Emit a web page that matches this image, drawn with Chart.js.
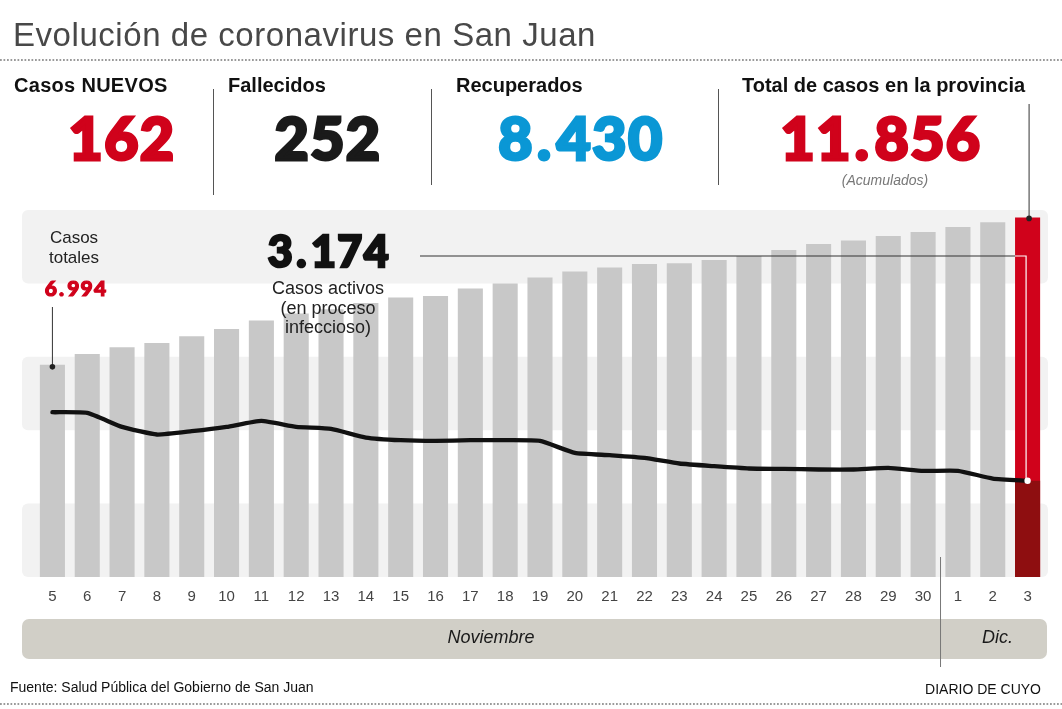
<!DOCTYPE html>
<html><head><meta charset="utf-8">
<script src="https://cdn.jsdelivr.net/npm/chart.js@4/dist/chart.umd.min.js"></script>
<style>
html,body{margin:0;padding:0;background:#fff;}
#wrap{position:relative;width:1062px;height:709px;overflow:hidden;font-family:"Liberation Sans",Arial,sans-serif;}
#c{position:absolute;left:0;top:0;}
.t{position:absolute;white-space:nowrap;line-height:1;}
.big{font-family:"Lato","Roboto",sans-serif;font-weight:900;-webkit-text-stroke:3px currentColor;letter-spacing:1.5px;}
.big .p{margin:0 4px 0 3px;}
.dots{position:absolute;left:0;width:1062px;height:2px;background-image:linear-gradient(to right,#9a9a9a 45%,rgba(255,255,255,0) 45%);background-size:3.5px 1.5px;background-repeat:repeat-x;}
.sep{position:absolute;width:1px;background:#555;}
</style></head>
<body><div id="wrap">
<canvas id="c" width="1062" height="709"></canvas>
<div class="t" style="left:13px;top:18px;font-size:33px;letter-spacing:0.55px;color:#484848;">Evolución de coronavirus en San Juan</div>
<div class="dots" style="top:59px;"></div>
<div class="t" style="left:14px;top:75px;font-size:20px;font-weight:bold;color:#111;letter-spacing:0.3px;">Casos NUEVOS</div>
<div class="t" style="left:228px;top:75px;font-size:20px;font-weight:bold;color:#111;">Fallecidos</div>
<div class="t" style="left:456px;top:75px;font-size:20px;font-weight:bold;color:#111;">Recuperados</div>
<div class="t" style="left:742px;top:75px;font-size:20px;font-weight:bold;color:#111;">Total de casos en la provincia</div>
<div class="sep" style="left:213px;top:89px;height:106px;"></div>
<div class="sep" style="left:431px;top:89px;height:96px;"></div>
<div class="sep" style="left:718px;top:89px;height:96px;"></div>
<div class="t big" style="left:22px;width:200px;text-align:center;top:108px;font-size:59px;color:#d0021b;">162</div>
<div class="t big" style="left:228px;width:200px;text-align:center;top:108px;font-size:59px;color:#1a1a1a;">252</div>
<div class="t big" style="left:431px;width:300px;text-align:center;top:108px;font-size:59px;color:#0a97d5;">8<span class="p">.</span>430</div>
<div class="t big" style="left:731px;width:300px;text-align:center;top:108px;font-size:59px;color:#d0021b;">11<span class="p">.</span>856</div>
<div class="t" style="left:785px;width:200px;text-align:center;top:173px;font-size:14px;font-style:italic;color:#777;">(Acumulados)</div>

<div class="t" style="left:24px;width:100px;text-align:center;top:228px;font-size:17px;line-height:20px;color:#222;">Casos<br>totales</div>
<div class="t big" style="left:26px;width:100px;text-align:center;top:277px;font-size:21px;color:#d0021b;-webkit-text-stroke:1.2px currentColor;letter-spacing:1.2px;">6<span class="p" style="margin:0 2px 0 1px;">.</span>994</div>
<div class="t big" style="left:229px;width:200px;text-align:center;top:229px;font-size:43px;color:#111;-webkit-text-stroke:2.5px currentColor;letter-spacing:1.5px;">3<span class="p" style="margin:0 3px 0 2px;">.</span>174</div>
<div class="t" style="left:228px;width:200px;text-align:center;top:279px;font-size:18px;line-height:19.5px;color:#222;">Casos activos<br>(en proceso<br>infeccioso)</div>

<div class="t" style="left:391px;width:200px;text-align:center;top:628px;font-size:18px;font-style:italic;color:#1a1a1a;">Noviembre</div>
<div class="t" style="left:913px;width:100px;text-align:right;top:628px;font-size:18px;font-style:italic;color:#1a1a1a;">Dic.</div>
<div class="t" style="left:10px;top:680px;font-size:14px;color:#111;">Fuente: Salud Pública del Gobierno de San Juan</div>
<div class="t" style="left:841px;width:200px;text-align:right;top:682px;font-size:14px;color:#111;">DIARIO DE CUYO</div>
<div class="dots" style="top:703px;"></div>
</div>
<script>
// Days (5 Nov - 3 Dec)
const dayLabels = ['5','6','7','8','9','10','11','12','13','14','15','16','17','18','19','20','21','22','23','24','25','26','27','28','29','30','1','2','3'];
// Casos totales (acumulados)
const totalCases = [6994,7356,7576,7718,7939,8180,8457,8688,8829,9037,9215,9268,9512,9676,9874,10072,10204,10323,10346,10455,10587,10784,10982,11094,11246,11378,11543,11698,11856];
// Casos activos
const activeCases = [5433,5410,4949,4698,4807,4949,5147,4949,4883,4599,4510,4487,4510,4510,4487,4092,4016,3927,3742,3653,3577,3564,3544,3544,3597,3498,3498,3247,3174];
// Axis range and background band step
const yMax = 12100;
const bandStep = 2420;

const lastIdx = dayLabels.length - 1;
const barColors = totalCases.map((v,i)=> i===lastIdx ? '#d0021b' : '#c8c8c8');
const activeLastOnly = activeCases.map((v,i)=> i===lastIdx ? v : null);
const pointR = activeCases.map((v,i)=> i===lastIdx ? 3.2 : 0);

const decor = {
  id:'decor',
  beforeDraw(chart){
    const ctx = chart.ctx;
    ctx.save();
    ctx.fillStyle = '#d1cfc7';
    ctx.beginPath();
    ctx.roundRect(22, 619, 1025, 40, 7);
    ctx.fill();
    ctx.restore();
  },
  beforeDatasetsDraw(chart){
    const ctx = chart.ctx, y = chart.scales.y;
    ctx.save();
    ctx.fillStyle = '#f2f2f2';
    for(let v=0; v<yMax; v+=bandStep*2){
      const top = y.getPixelForValue(Math.min(v+bandStep,yMax));
      const bot = y.getPixelForValue(v);
      ctx.beginPath();
      ctx.roundRect(22, top, 1026, bot-top, 6);
      ctx.fill();
    }
    ctx.restore();
  },
  afterDatasetsDraw(chart){
    const ctx = chart.ctx, x = chart.scales.x;
    const bars = chart.getDatasetMeta(2).data;
    const pts = chart.getDatasetMeta(0).data;
    const lastBar = bars[lastIdx], firstBar = bars[0], lastPt = pts[lastIdx];
    ctx.save();
    // 3.174 connector
    const barLeft = lastBar.x - lastBar.width/2;
    ctx.lineWidth = 1.2;
    ctx.strokeStyle = '#333';
    ctx.beginPath(); ctx.moveTo(420, 256); ctx.lineTo(barLeft, 256); ctx.stroke();
    ctx.strokeStyle = '#fff';
    ctx.beginPath(); ctx.moveTo(barLeft, 256); ctx.lineTo(lastPt.x - 1.5, 256); ctx.lineTo(lastPt.x - 1.5, lastPt.y); ctx.stroke();
    // 6.994 connector
    ctx.strokeStyle = '#333'; ctx.lineWidth = 1;
    ctx.beginPath(); ctx.moveTo(firstBar.x, 307); ctx.lineTo(firstBar.x, firstBar.y + 2); ctx.stroke();
    ctx.fillStyle = '#222';
    ctx.beginPath(); ctx.arc(firstBar.x, firstBar.y + 2, 2.8, 0, Math.PI*2); ctx.fill();
    // total connector
    ctx.beginPath(); ctx.moveTo(lastBar.x + 1.5, 104); ctx.lineTo(lastBar.x + 1.5, lastBar.y + 1); ctx.stroke();
    ctx.beginPath(); ctx.arc(lastBar.x + 1.5, lastBar.y + 1, 2.8, 0, Math.PI*2); ctx.fill();
    // month separator
    const sx = (x.getPixelForValue(25) + x.getPixelForValue(26)) / 2;
    ctx.strokeStyle = '#777';
    ctx.beginPath(); ctx.moveTo(sx, 557); ctx.lineTo(sx, 667); ctx.stroke();
    ctx.restore();
  }
};

new Chart(document.getElementById('c'), {
  type:'bar',
  data:{
    labels: dayLabels,
    datasets:[
      {type:'line', label:'Casos activos', data: activeCases, borderColor:'#111', borderWidth:4.3,
       tension:0.15, pointRadius: pointR, pointBackgroundColor:'#fff', pointBorderWidth:0,
       borderCapStyle:'round', borderJoinStyle:'round', order:0},
      {label:'Activos (último día)', data: activeLastOnly, backgroundColor:'#8e0e10', grouped:false,
       barPercentage:0.72, categoryPercentage:1, order:1},
      {label:'Casos totales', data: totalCases, backgroundColor: barColors, grouped:false,
       barPercentage:0.72, categoryPercentage:1, order:2}
    ]
  },
  options:{
    responsive:false, animation:false,
    layout:{padding:{left:35, right:17, top:210, bottom:92}},
    plugins:{legend:{display:false}, tooltip:{enabled:false}},
    scales:{
      x:{grid:{display:false, drawTicks:false}, border:{display:false},
         ticks:{padding:11, color:'#444', font:{family:'"Liberation Sans", Arial, sans-serif', size:15}, maxRotation:0, autoSkip:false}},
      y:{display:false, min:0, max:yMax}
    }
  },
  plugins:[decor]
});
</script>
</body></html>
